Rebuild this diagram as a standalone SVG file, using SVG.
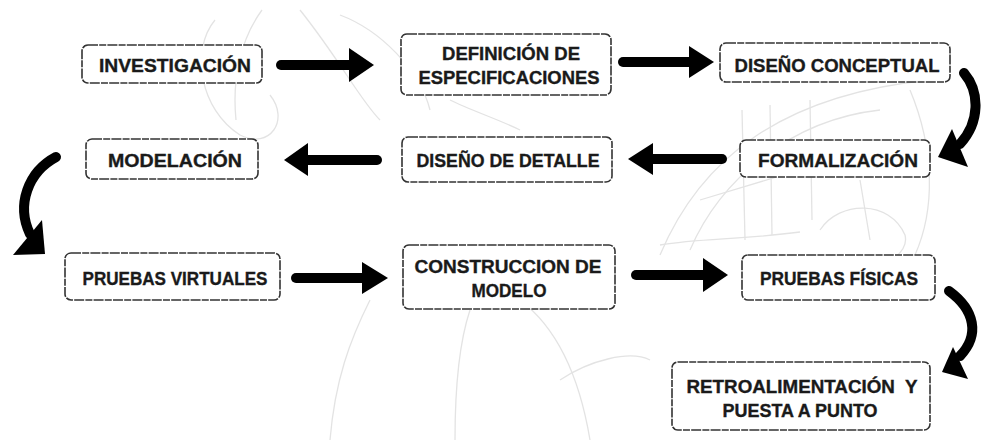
<svg xmlns="http://www.w3.org/2000/svg" width="981" height="441" viewBox="0 0 981 441">
  <defs>
    <style>
      .box { fill: #ffffff; stroke: #333333; stroke-width: 1.6; stroke-dasharray: 10 1.2 7 1.2; }
      .lbl { font-family: "Liberation Sans", Arial, sans-serif; font-weight: bold; font-size: 18.5px; fill: #1a1a1a; stroke: #1a1a1a; stroke-width: 0.35; text-anchor: middle; }
      .shaft { fill: none; stroke: #000; stroke-width: 10; stroke-linecap: round; }
      .head { fill: #000; }
      .sketch { fill: none; stroke: #e3e3e3; stroke-width: 1.3; }
    </style>
  </defs>
  <rect width="981" height="441" fill="#ffffff"/>

  <!-- faint background sketch of the vehicle -->
  <g id="sketch">
    <path class="sketch" d="M262 10 C240 40 232 80 236 120"/>
    <path class="sketch" d="M215 20 C190 50 200 110 240 135 C270 150 290 120 270 95"/>
    <path class="sketch" d="M300 10 C340 60 360 100 380 120"/>
    <path class="sketch" d="M340 15 C380 30 420 70 430 110"/>
    <path class="sketch" d="M450 100 C470 110 500 120 520 130"/>
    <path class="sketch" d="M660 255 C700 160 780 95 930 80"/>
    <path class="sketch" d="M690 250 C720 180 790 120 880 110"/>
    <path class="sketch" d="M700 200 L800 170 L870 165"/>
    <path class="sketch" d="M742 110 L745 240"/>
    <path class="sketch" d="M770 105 L772 235"/>
    <path class="sketch" d="M810 100 L812 220"/>
    <path class="sketch" d="M860 180 L870 240"/>
    <path class="sketch" d="M660 245 C700 238 740 240 800 232"/>
    <path class="sketch" d="M820 230 C840 200 890 200 905 235 C910 255 880 270 860 262"/>
    <path class="sketch" d="M910 90 C935 150 935 210 915 255"/>
    <path class="sketch" d="M330 440 C335 380 350 340 370 300"/>
    <path class="sketch" d="M455 440 C455 380 460 340 470 310"/>
    <path class="sketch" d="M520 300 C560 330 580 380 590 440"/>
    <path class="sketch" d="M560 380 C590 360 630 350 650 360"/>
  </g>

  <!-- process steps -->
  <g id="n-investigacion">
    <rect class="box" x="82" y="45" width="180" height="38" rx="6"/>
    <text class="lbl" x="175" y="72" textLength="152" lengthAdjust="spacingAndGlyphs">INVESTIGACIÓN</text>
  </g>
  <g id="n-definicion">
    <rect class="box" x="401" y="34" width="210" height="61" rx="6"/>
    <text class="lbl" x="511" y="60" textLength="138" lengthAdjust="spacingAndGlyphs">DEFINICIÓN DE</text>
    <text class="lbl" x="509" y="84" textLength="181" lengthAdjust="spacingAndGlyphs">ESPECIFICACIONES</text>
  </g>
  <g id="n-conceptual">
    <rect class="box" x="720" y="43" width="230" height="39" rx="6"/>
    <text class="lbl" x="837" y="72" textLength="205" lengthAdjust="spacingAndGlyphs">DISEÑO CONCEPTUAL</text>
  </g>
  <g id="n-formalizacion">
    <rect class="box" x="740" y="140" width="190" height="37" rx="6"/>
    <text class="lbl" x="838" y="167" textLength="160" lengthAdjust="spacingAndGlyphs">FORMALIZACIÓN</text>
  </g>
  <g id="n-detalle">
    <rect class="box" x="402" y="137" width="210" height="45" rx="6"/>
    <text class="lbl" x="508" y="167" textLength="183" lengthAdjust="spacingAndGlyphs">DISEÑO DE DETALLE</text>
  </g>
  <g id="n-modelacion">
    <rect class="box" x="86" y="139" width="172" height="40" rx="6"/>
    <text class="lbl" x="175" y="167" textLength="134" lengthAdjust="spacingAndGlyphs">MODELACIÓN</text>
  </g>
  <g id="n-virtuales">
    <rect class="box" x="65" y="253" width="215" height="47" rx="6"/>
    <text class="lbl" x="175" y="285" textLength="185" lengthAdjust="spacingAndGlyphs">PRUEBAS VIRTUALES</text>
  </g>
  <g id="n-construccion">
    <rect class="box" x="403" y="245" width="212" height="64" rx="6"/>
    <text class="lbl" x="508" y="273" textLength="187" lengthAdjust="spacingAndGlyphs">CONSTRUCCION DE</text>
    <text class="lbl" x="509" y="297" textLength="75" lengthAdjust="spacingAndGlyphs">MODELO</text>
  </g>
  <g id="n-fisicas">
    <rect class="box" x="742" y="255" width="193" height="45" rx="6"/>
    <text class="lbl" x="839" y="285" textLength="158" lengthAdjust="spacingAndGlyphs">PRUEBAS FÍSICAS</text>
  </g>
  <g id="n-retro">
    <rect class="box" x="672" y="362" width="258" height="68" rx="6"/>
    <text class="lbl" x="802" y="393" textLength="231" lengthAdjust="spacingAndGlyphs" xml:space="preserve">RETROALIMENTACIÓN  Y</text>
    <text class="lbl" x="800" y="417" textLength="155" lengthAdjust="spacingAndGlyphs">PUESTA A PUNTO</text>
  </g>

  <!-- connectors -->
  <g id="connectors">
    <!-- investigación → definición -->
    <line class="shaft" x1="281" y1="65" x2="352" y2="65"/>
    <polygon class="head" points="349,48 374,65 349,82"/>
    <!-- definición → diseño conceptual -->
    <line class="shaft" x1="623" y1="62" x2="692" y2="62"/>
    <polygon class="head" points="689,46 714,62 689,78"/>
    <!-- diseño conceptual → formalización -->
    <path class="shaft" d="M964 73 C980 92 980 122 960 144"/>
    <polygon class="head" points="952,129 968,167 938,157"/>
    <!-- formalización → diseño de detalle -->
    <line class="shaft" x1="722" y1="159" x2="650" y2="159"/>
    <polygon class="head" points="653,143 628,159 653,175"/>
    <!-- diseño de detalle → modelación -->
    <line class="shaft" x1="377" y1="160" x2="305" y2="160"/>
    <polygon class="head" points="308,143 284,160 308,176"/>
    <!-- modelación → pruebas virtuales -->
    <path class="shaft" d="M56 157 C28 172 16 205 30 234"/>
    <polygon class="head" points="13,255 42,220 45,254"/>
    <!-- pruebas virtuales → construcción -->
    <line class="shaft" x1="296" y1="278" x2="365" y2="278"/>
    <polygon class="head" points="362,262 388,278 362,294"/>
    <!-- construcción → pruebas físicas -->
    <line class="shaft" x1="636" y1="275" x2="706" y2="275"/>
    <polygon class="head" points="703,258 728,275 703,292"/>
    <!-- pruebas físicas → retroalimentación -->
    <path class="shaft" d="M949 291 C975 310 980 335 960 356"/>
    <polygon class="head" points="953,347 968,379 942,372"/>
  </g>
</svg>
